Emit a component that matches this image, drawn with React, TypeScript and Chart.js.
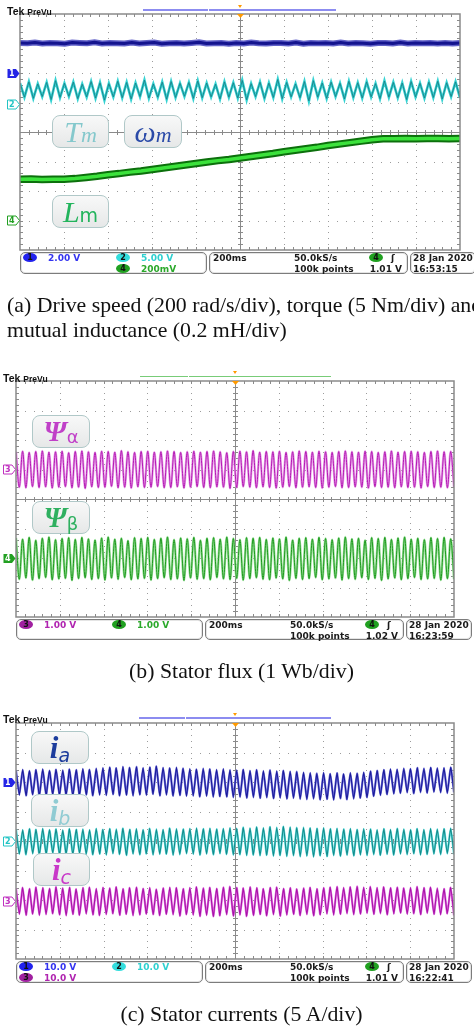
import React, { useEffect, useRef } from 'react';
import { Chart, registerables } from 'chart.js';

Chart.register(...registerables);

// ---------------- DATA (values in screen divisions, centre = 0, range -4..4) ----------------
// Panel (a): ch1 speed (blue), ch2 torque (cyan), ch4 mutual inductance (green)
const speedLevels = [3.02, 3.01, 3.03, 3.0, 3.02, 3.01, 2.99, 3.03, 3.02, 3.01, 3.04, 3.0, 3.02, 3.01, 3.0, 3.03, 3.0, 3.02, 3.03, 2.99,
  3.01, 3.02, 3.0, 3.02, 3.04, 3.0, 3.01, 3.02, 2.99, 3.02, 3.0, 3.03, 3.01, 3.0, 3.02, 3.02, 3.0, 3.03, 2.99, 3.02,
  3.01, 3.02, 3.0, 3.03, 3.0, 3.02, 3.01, 2.99, 3.02, 3.02, 3.0, 3.03, 3.0, 3.02, 3.01, 3.02, 3.0, 3.02, 3.0, 3.02];
const torquePeaks = [1.66, 1.7, 1.63, 1.68, 1.74, 1.65, 1.69, 1.62, 1.71, 1.67, 1.64, 1.72, 1.68, 1.66, 1.76, 1.63, 1.69, 1.71, 1.65, 1.68,
  1.73, 1.66, 1.62, 1.7, 1.67, 1.75, 1.64, 1.69, 1.66, 1.78, 1.68, 1.63, 1.71, 1.74, 1.66, 1.69, 1.65, 1.72, 1.67, 1.7,
  1.64, 1.73, 1.68, 1.66, 1.71, 1.65, 1.69, 1.72, 1.67, 1.7];
const torqueTroughs = [1.18, 1.14, 1.2, 1.1, 1.17, 1.21, 1.13, 1.19, 1.15, 1.08, 1.19, 1.16, 1.12, 1.2, 1.15, 1.18, 1.11, 1.17, 1.21, 1.14,
  1.16, 1.19, 1.12, 1.18, 1.15, 1.09, 1.2, 1.14, 1.17, 1.13, 1.19, 1.16, 1.05, 1.18, 1.14, 1.2, 1.12, 1.17, 1.15, 1.19,
  1.13, 1.18, 1.16, 1.1, 1.19, 1.15, 1.17, 1.12, 1.2, 1.16];
const inductanceLevels = [-1.6, -1.59, -1.61, -1.6, -1.6, -1.58, -1.54, -1.5, -1.45, -1.41, -1.36, -1.32, -1.27, -1.22, -1.17, -1.12,
  -1.07, -1.02, -0.97, -0.93, -0.88, -0.83, -0.78, -0.73, -0.67, -0.62, -0.57, -0.52, -0.46, -0.41, -0.36, -0.31, -0.26,
  -0.23, -0.23, -0.22, -0.23, -0.22, -0.22, -0.23, -0.22];

// Panel (b): ch3 Psi-alpha (magenta), ch4 Psi-beta (green)
const psiAlphaPeaks = [1.6, 1.62, 1.58, 1.61, 1.63, 1.59, 1.6, 1.62, 1.57, 1.61, 1.63, 1.6, 1.58, 1.62, 1.61, 1.59, 1.64, 1.6, 1.58, 1.61,
  1.62, 1.59, 1.6, 1.63, 1.61, 1.58, 1.6, 1.62, 1.59, 1.61, 1.63, 1.6, 1.57, 1.61, 1.62, 1.6, 1.64, 1.59, 1.61, 1.6,
  1.62, 1.58, 1.6, 1.63, 1.61, 1.59, 1.62, 1.6, 1.58, 1.61, 1.63, 1.6, 1.59, 1.62, 1.61, 1.58, 1.6, 1.63, 1.59, 1.61,
  1.62, 1.6, 1.58, 1.61, 1.63, 1.6, 1.61];
const psiAlphaTroughs = [0.4, 0.38, 0.42, 0.39, 0.41, 0.37, 0.4, 0.42, 0.38, 0.4, 0.36, 0.41, 0.39, 0.4, 0.43, 0.38, 0.4, 0.37, 0.41, 0.39,
  0.4, 0.42, 0.38, 0.39, 0.41, 0.37, 0.4, 0.42, 0.39, 0.38, 0.41, 0.4, 0.36, 0.39, 0.42, 0.4, 0.38, 0.41, 0.39, 0.37,
  0.4, 0.42, 0.38, 0.4, 0.41, 0.39, 0.37, 0.4, 0.42, 0.38, 0.39, 0.41, 0.4, 0.37, 0.42, 0.39, 0.4, 0.38, 0.41, 0.39,
  0.4, 0.37, 0.42, 0.39, 0.4, 0.38, 0.41];
const psiBetaPeaks = [-1.32, -1.36, -1.3, -1.4, -1.33, -1.29, -1.38, -1.34, -1.31, -1.37, -1.3, -1.35, -1.39, -1.32, -1.29, -1.36, -1.33, -1.41, -1.31, -1.34,
  -1.3, -1.37, -1.33, -1.29, -1.38, -1.32, -1.35, -1.3, -1.4, -1.33, -1.31, -1.36, -1.29, -1.34, -1.38, -1.31, -1.33, -1.3, -1.37, -1.32,
  -1.35, -1.29, -1.39, -1.33, -1.31, -1.36, -1.3, -1.34, -1.38, -1.32, -1.29, -1.35, -1.33, -1.4, -1.31, -1.34, -1.3, -1.37, -1.32, -1.29,
  -1.36, -1.33, -1.38, -1.31, -1.34, -1.3, -1.35];
const psiBetaTroughs = [-2.72, -2.68, -2.75, -2.7, -2.66, -2.74, -2.71, -2.69, -2.76, -2.7, -2.67, -2.73, -2.7, -2.75, -2.68, -2.72, -2.66, -2.74, -2.71, -2.69,
  -2.75, -2.7, -2.67, -2.73, -2.71, -2.76, -2.68, -2.72, -2.7, -2.74, -2.66, -2.71, -2.73, -2.69, -2.75, -2.7, -2.67, -2.72, -2.74, -2.68,
  -2.71, -2.76, -2.69, -2.73, -2.7, -2.66, -2.74, -2.71, -2.68, -2.75, -2.7, -2.72, -2.67, -2.73, -2.69, -2.76, -2.71, -2.68, -2.74, -2.7,
  -2.66, -2.73, -2.71, -2.69, -2.75, -2.7, -2.72];

// Panel (c): ch1 ia (blue), ch2 ib (cyan), ch3 ic (magenta)
const iaPeaks = [2.4, 2.42, 2.38, 2.41, 2.44, 2.39, 2.42, 2.4, 2.43, 2.41, 2.45, 2.42, 2.46,
  2.48, 2.5, 2.47, 2.52, 2.49, 2.51, 2.48, 2.5, 2.53, 2.49, 2.47, 2.5, 2.46,
  2.45, 2.43, 2.46, 2.44, 2.42, 2.45, 2.41,
  2.4, 2.42, 2.39, 2.41, 2.38, 2.4, 2.37, 2.39, 2.36, 2.35,
  2.33, 2.31, 2.29, 2.32, 2.28, 2.3, 2.27, 2.31, 2.29, 2.33,
  2.36, 2.39, 2.41, 2.44, 2.43, 2.46, 2.45, 2.48, 2.46, 2.49, 2.47, 2.48, 2.5];
const iaTroughs = [1.56, 1.54, 1.57, 1.53, 1.55, 1.58, 1.54, 1.56, 1.52, 1.55, 1.57, 1.54, 1.56,
  1.55, 1.58, 1.54, 1.56, 1.53, 1.57, 1.55, 1.59, 1.54, 1.56, 1.53, 1.55, 1.52,
  1.53, 1.5, 1.52, 1.49, 1.51, 1.5, 1.48,
  1.49, 1.46, 1.48, 1.45, 1.47, 1.44, 1.46, 1.43, 1.45, 1.42,
  1.41, 1.43, 1.4, 1.42, 1.39, 1.44, 1.41, 1.43, 1.46, 1.48,
  1.52, 1.55, 1.58, 1.6, 1.62, 1.64, 1.61, 1.65, 1.63, 1.66, 1.64, 1.62, 1.65];
const ibPeaks = [0.4, 0.38, 0.41, 0.39, 0.42, 0.38, 0.4, 0.37, 0.41, 0.39, 0.4, 0.38, 0.42,
  0.39, 0.41, 0.4, 0.43, 0.39, 0.41, 0.38, 0.42, 0.4, 0.39, 0.43, 0.41, 0.4,
  0.42, 0.44, 0.41, 0.43, 0.4, 0.42, 0.45,
  0.43, 0.46, 0.44, 0.47, 0.45, 0.48, 0.46, 0.49, 0.47, 0.45,
  0.46, 0.44, 0.42, 0.45, 0.41, 0.43, 0.4, 0.42, 0.39, 0.41,
  0.4, 0.38, 0.41, 0.39, 0.42, 0.4, 0.38, 0.41, 0.39, 0.42, 0.4, 0.41, 0.43];
const ibTroughs = [-0.44, -0.46, -0.43, -0.47, -0.45, -0.42, -0.46, -0.44, -0.47, -0.43, -0.45, -0.46, -0.44,
  -0.47, -0.43, -0.45, -0.48, -0.44, -0.46, -0.43, -0.47, -0.45, -0.44, -0.48, -0.46, -0.43,
  -0.45, -0.47, -0.44, -0.46, -0.43, -0.45, -0.47,
  -0.46, -0.49, -0.47, -0.5, -0.48, -0.51, -0.49, -0.52, -0.5, -0.53,
  -0.51, -0.54, -0.5, -0.52, -0.49, -0.51, -0.48, -0.5, -0.47, -0.49,
  -0.46, -0.48, -0.45, -0.47, -0.44, -0.46, -0.43, -0.47, -0.45, -0.44, -0.46, -0.43, -0.45];
const icPeaks = [-1.6, -1.58, -1.62, -1.57, -1.59, -1.61, -1.56, -1.6, -1.58, -1.63, -1.59, -1.57, -1.61,
  -1.58, -1.6, -1.56, -1.62, -1.59, -1.57, -1.61, -1.58, -1.64, -1.6, -1.57, -1.59, -1.62,
  -1.58, -1.56, -1.6, -1.58, -1.61, -1.57, -1.55,
  -1.58, -1.6, -1.56, -1.59, -1.62, -1.58, -1.57, -1.61, -1.59, -1.63,
  -1.6, -1.58, -1.62, -1.59, -1.57, -1.55, -1.58, -1.56, -1.54, -1.57,
  -1.55, -1.58, -1.56, -1.59, -1.57, -1.6, -1.58, -1.55, -1.59, -1.57, -1.6, -1.62, -1.58];
const icTroughs = [-2.48, -2.51, -2.47, -2.52, -2.49, -2.46, -2.5, -2.53, -2.48, -2.51, -2.47, -2.5, -2.52,
  -2.49, -2.46, -2.51, -2.48, -2.53, -2.5, -2.47, -2.49, -2.52, -2.48, -2.5, -2.54, -2.49,
  -2.51, -2.55, -2.52, -2.56, -2.53, -2.5, -2.54,
  -2.51, -2.55, -2.52, -2.49, -2.53, -2.5, -2.54, -2.51, -2.48, -2.52,
  -2.49, -2.53, -2.5, -2.47, -2.51, -2.48, -2.46, -2.5, -2.47, -2.45,
  -2.48, -2.46, -2.5, -2.47, -2.44, -2.48, -2.46, -2.49, -2.45, -2.48, -2.5, -2.46, -2.52];

// channel reference markers (divisions)
const markersA = [
  { level: 2.0, label: '1', color: '#2424e6', filled: true },
  { level: 0.95, label: '2', color: '#22c4c4', filled: false },
  { level: -2.98, label: '4', color: '#22a022', filled: false },
];
const markersB = [
  { level: 1.02, label: '3', color: '#c030c0', filled: false },
  { level: -2.0, label: '4', color: '#22a022', filled: true },
];
const markersC = [
  { level: 2.0, label: '1', color: '#2424e6', filled: true },
  { level: 0.0, label: '2', color: '#22c4c4', filled: false },
  { level: -2.03, label: '3', color: '#c030c0', filled: false },
];

// ---------------- helpers ----------------
function zigzag(peaks: number[], troughs: number[]) {
  const n = Math.min(peaks.length, troughs.length);
  const step = 10 / (n - 0.5);
  const pts: { x: number; y: number }[] = [];
  for (let i = 0; i < n; i++) {
    pts.push({ x: i * step, y: peaks[i] });
    pts.push({ x: (i + 0.5) * step, y: troughs[i] });
  }
  return pts;
}
function series(values: number[]) {
  const step = 10 / (values.length - 1);
  return values.map((v, i) => ({ x: i * step, y: v }));
}
function trace(data: any[], color: string, width: number, order: number, extra: any = {}) {
  return { data, borderColor: color, borderWidth: width, pointRadius: 0, fill: false, order, tension: 0, ...extra };
}

const scopeGrid = {
  id: 'scopeGrid',
  beforeDatasetsDraw(chart: any) {
    const { ctx, chartArea: a } = chart;
    const xs = chart.scales.x, ys = chart.scales.y;
    ctx.save();
    ctx.fillStyle = '#ffffff';
    ctx.fillRect(a.left, a.top, a.right - a.left, a.bottom - a.top);
    ctx.fillStyle = '#9c9c9c';
    for (let d = 1; d < 10; d++) {
      if (d === 5) continue;
      const px = Math.round(xs.getPixelForValue(d));
      for (let k = 1; k < 40; k++) {
        const py = Math.round(ys.getPixelForValue(-4 + k * 0.2));
        ctx.fillRect(px, py, 1, 1);
      }
    }
    for (let d = -3; d <= 3; d++) {
      if (d === 0) continue;
      const py = Math.round(ys.getPixelForValue(d));
      for (let k = 1; k < 50; k++) {
        const px = Math.round(xs.getPixelForValue(k * 0.2));
        ctx.fillRect(px, py, 1, 1);
      }
    }
    ctx.fillStyle = '#8a8a8a';
    const cx = Math.round(xs.getPixelForValue(5));
    const cy = Math.round(ys.getPixelForValue(0));
    ctx.fillRect(cx, a.top, 1, a.bottom - a.top);
    ctx.fillRect(a.left, cy, a.right - a.left, 1);
    for (let k = 1; k < 40; k++) {
      const py = Math.round(ys.getPixelForValue(-4 + k * 0.2));
      ctx.fillRect(cx - 2, py, 5, 1);
      ctx.fillRect(a.left, py, 3, 1);
      ctx.fillRect(a.right - 3, py, 3, 1);
    }
    for (let k = 1; k < 50; k++) {
      const px = Math.round(xs.getPixelForValue(k * 0.2));
      ctx.fillRect(px, cy - 2, 1, 5);
      ctx.fillRect(px, a.top, 1, 3);
      ctx.fillRect(px, a.bottom - 3, 1, 3);
    }
    ctx.restore();
  },
  afterDatasetsDraw(chart: any) {
    const { ctx, chartArea: a } = chart;
    const cx = Math.round(chart.scales.x.getPixelForValue(5));
    ctx.save();
    ctx.strokeStyle = '#8a8a8a';
    ctx.lineWidth = 1.5;
    ctx.strokeRect(a.left, a.top, a.right - a.left, a.bottom - a.top);
    ctx.fillStyle = '#ff9a00';
    ctx.beginPath();
    ctx.moveTo(cx - 3, a.top);
    ctx.lineTo(cx + 4, a.top);
    ctx.lineTo(cx + 0.5, a.top + 4);
    ctx.closePath();
    ctx.fill();
    ctx.restore();
  },
};

function markerPlugin(markers: any[]) {
  return {
    id: 'scopeMarkers',
    afterDraw(chart: any) {
      const { ctx, chartArea: a } = chart;
      const ys = chart.scales.y;
      ctx.save();
      ctx.font = 'bold 8px "DejaVu Sans"';
      ctx.textAlign = 'center';
      ctx.textBaseline = 'middle';
      for (const m of markers) {
        const py = Math.round(ys.getPixelForValue(m.level)) + 0.5;
        const x0 = a.left - 12.5;
        const x1 = a.left - 4;
        ctx.beginPath();
        ctx.moveTo(x0, py - 4.5);
        ctx.lineTo(x1, py - 4.5);
        ctx.lineTo(a.left - 0.5, py);
        ctx.lineTo(x1, py + 4.5);
        ctx.lineTo(x0, py + 4.5);
        ctx.closePath();
        if (m.filled) {
          ctx.fillStyle = m.color;
          ctx.fill();
          ctx.fillStyle = '#ffffff';
        } else {
          ctx.fillStyle = '#ffffff';
          ctx.fill();
          ctx.strokeStyle = m.color;
          ctx.lineWidth = 1;
          ctx.stroke();
          ctx.fillStyle = m.color;
        }
        ctx.fillText(m.label, (x0 + x1) / 2, py + 0.5);
      }
      ctx.restore();
    },
  };
}

function ScopeChart({ top, height, pad, datasets, markers }: any) {
  const ref = useRef<HTMLCanvasElement>(null);
  useEffect(() => {
    const chart = new Chart(ref.current as HTMLCanvasElement, {
      type: 'line',
      data: { datasets },
      options: {
        animation: false,
        responsive: false,
        maintainAspectRatio: false,
        devicePixelRatio: 1,
        events: [],
        layout: { padding: pad },
        scales: {
          x: { type: 'linear', min: 0, max: 10, display: false },
          y: { type: 'linear', min: -4, max: 4, display: false },
        },
        plugins: { legend: { display: false }, tooltip: { enabled: false } },
        elements: { point: { radius: 0 } },
      } as any,
      plugins: [scopeGrid, markerPlugin(markers)],
    } as any);
    return () => chart.destroy();
  }, []);
  return <canvas ref={ref} width={474} height={height} style={{ position: 'absolute', left: 0, top, width: 474, height }} />;
}

// ---------------- HTML decorations ----------------
const MONO = '"DejaVu Sans", sans-serif';

function Txt({ x, y, text, color = '#1a1a1a', right = false }: any) {
  const style: any = {
    position: 'absolute', top: y - 6, height: 12, lineHeight: '12px', fontSize: 9, fontWeight: 'bold',
    color, whiteSpace: 'nowrap', fontFamily: MONO,
  };
  if (right) style.right = 474 - x; else style.left = x;
  return <div style={style}>{text}</div>;
}
function Ell({ x, y, n, bg }: any) {
  return (
    <div style={{
      position: 'absolute', left: x, top: y - 4.5, width: 14, height: 9, borderRadius: '50%', background: bg,
      fontSize: 8, fontWeight: 'bold', lineHeight: '9px', textAlign: 'center', color: '#111', fontFamily: MONO,
    }}>{n}</div>
  );
}
function Sect({ left, top, width, height }: any) {
  return <div style={{
    position: 'absolute', left, top, width, height, boxSizing: 'border-box', border: '1px solid #7c7c7c',
    borderRadius: 5, boxShadow: 'inset 0 0 0 1px #e4e4e4',
  }} />;
}

function StatusBar({ dx, top, h, chans, trig, date, clock }: any) {
  const r1 = top + 5.5, r2 = top + 16.5;
  return (
    <>
      <Sect left={20 + dx} top={top} width={187} height={h} />
      <Sect left={209 + dx} top={top} width={199} height={h} />
      <Sect left={410 + dx} top={top} width={66} height={h} />
      {chans.map((c: any, i: number) => (
        <React.Fragment key={i}>
          <Ell x={(c.col ? 116 : 23) + dx} y={c.row ? r2 : r1} n={c.n} bg={c.bg} />
          <Txt x={(c.col ? 141 : 48) + dx} y={c.row ? r2 : r1} text={c.text} color={c.color} />
        </React.Fragment>
      ))}
      <Txt x={213 + dx} y={r1} text="200ms" />
      <Txt x={294 + dx} y={r1} text="50.0kS/s" />
      <Txt x={294 + dx} y={r2} text="100k points" />
      <Ell x={369 + dx} y={r1} n="4" bg="#20a020" />
      <Txt x={391 + dx} y={r1} text="ʃ" />
      <Txt x={402 + dx} y={r2} text={trig} right />
      <Txt x={413 + dx} y={r1} text={date} />
      <Txt x={413 + dx} y={r2} text={clock} />
    </>
  );
}

function TekHeader({ left, top, from, to, gap, color, trigX }: any) {
  const ly = top + 5;
  return (
    <>
      <div style={{ position: 'absolute', left, top, height: 12, lineHeight: '12px', whiteSpace: 'nowrap', fontFamily: '"Liberation Sans", sans-serif', color: '#111' }}>
        <span style={{ fontSize: 10.5, fontWeight: 'bold' }}>Tek</span>
        <span style={{ fontSize: 8.5, fontWeight: 'bold', marginLeft: 3 }}>PreVu</span>
      </div>
      <div style={{ position: 'absolute', left: from, top: ly, width: gap - from - 0.5, height: 1.5, background: color }} />
      <div style={{ position: 'absolute', left: gap + 1, top: ly, width: to - gap - 1, height: 1.5, background: color }} />
      <div style={{ position: 'absolute', left: trigX - 2.5, top: ly - 4.5, width: 0, height: 0, borderLeft: '2.5px solid transparent', borderRight: '2.5px solid transparent', borderTop: '3.5px solid #ff9a00' }} />
    </>
  );
}

function Label({ left, top, width, children }: any) {
  return (
    <div style={{
      position: 'absolute', left, top, width, height: 33, boxSizing: 'border-box', border: '1.5px solid #b0c8c8',
      borderRadius: 8, background: 'linear-gradient(#f8f8f8, #e6e8e8)', display: 'flex', alignItems: 'center',
      justifyContent: 'center', whiteSpace: 'nowrap', lineHeight: 1,
    }}><span style={{ display: 'inline-block', lineHeight: 1 }}>{children}</span></div>
  );
}
const serifI = (txt: string, color: string, size: number, bold = false) => (
  <span style={{ fontFamily: '"Liberation Serif", serif', fontStyle: 'italic', fontWeight: bold ? 'bold' : 'normal', fontSize: size, color }}>{txt}</span>
);
const sansSub = (txt: string, color: string, size: number, italic: boolean, drop = 0) => (
  <span style={{ fontFamily: '"DejaVu Sans", sans-serif', fontStyle: italic ? 'italic' : 'normal', fontSize: size, color, position: 'relative', top: drop }}>{txt}</span>
);

const captionStyle: any = {
  position: 'absolute', fontFamily: '"Liberation Serif", serif', fontSize: 21.8, lineHeight: '24.5px', color: '#111', whiteSpace: 'nowrap',
};

export default function App() {
  const dsA = [
    trace(series(speedLevels), '#14148e', 3, 1),
    trace(series(speedLevels), '#6262c8', 6, 2),
    trace(zigzag(torquePeaks, torqueTroughs), '#1b8088', 0.9, 1),
    trace(zigzag(torquePeaks, torqueTroughs), '#33d2d2', 2.6, 2),
    trace(series(inductanceLevels), '#3ce23c', 3.5, 1),
    trace(series(inductanceLevels), '#0c700c', 7.5, 2),
  ];
  const dsB = [
    trace(zigzag(psiAlphaPeaks, psiAlphaTroughs), '#b418b4', 1, 1, { cubicInterpolationMode: 'monotone' }),
    trace(zigzag(psiAlphaPeaks, psiAlphaTroughs), '#eaa6ea', 2.4, 2, { cubicInterpolationMode: 'monotone' }),
    trace(zigzag(psiBetaPeaks, psiBetaTroughs), '#1e9a1e', 1, 1, { cubicInterpolationMode: 'monotone' }),
    trace(zigzag(psiBetaPeaks, psiBetaTroughs), '#9be09b', 2.4, 2, { cubicInterpolationMode: 'monotone' }),
  ];
  const dsC = [
    trace(zigzag(iaPeaks, iaTroughs), '#1a1a9a', 1.1, 1, { tension: 0.15 }),
    trace(zigzag(iaPeaks, iaTroughs), '#7070d8', 2.2, 2, { tension: 0.15 }),
    trace(zigzag(ibPeaks, ibTroughs), '#148a8a', 1.1, 1, { tension: 0.15 }),
    trace(zigzag(ibPeaks, ibTroughs), '#5fdede', 2.2, 2, { tension: 0.15 }),
    trace(zigzag(icPeaks, icTroughs), '#a812a8', 1.1, 1, { tension: 0.15 }),
    trace(zigzag(icPeaks, icTroughs), '#e070e0', 2.2, 2, { tension: 0.15 }),
  ];

  return (
    <div style={{ position: 'absolute', left: 0, top: 0, width: 474, height: 1030, background: '#fff', overflow: 'hidden' }}>
      {/* ---------- Panel (a) ---------- */}
      <ScopeChart top={0} height={252} pad={{ left: 20, top: 14, right: 14, bottom: 2 }} datasets={dsA} markers={markersA} />
      <TekHeader left={7} top={4} from={143} to={336} gap={208} color="#8c8cf0" trigX={240} />
      <Label left={52} top={115} width={57}>{serifI('T', '#84c8cc', 30)}{serifI('m', '#84c8cc', 22)}</Label>
      <Label left={124} top={115} width={58}>{serifI('ω', '#2a4aa8', 30)}{serifI('m', '#2a4aa8', 22)}</Label>
      <Label left={52} top={195} width={57}>{serifI('L', '#22b45c', 30)}{sansSub('m', '#22b45c', 19, false)}</Label>
      <StatusBar dx={0} top={252} h={22} trig="1.01 V" date="28 Jan  2020" clock="16:53:15"
        chans={[
          { col: 0, row: 0, n: '1', bg: '#2222ee', text: '2.00 V', color: '#3434f0' },
          { col: 1, row: 0, n: '2', bg: '#33dddd', text: '5.00 V', color: '#2ed0d0' },
          { col: 1, row: 1, n: '4', bg: '#20a020', text: '200mV', color: '#2aa82a' },
        ]} />
      <div style={{ ...captionStyle, left: 7, top: 293 }}>
        <div>(a) Drive speed (200 rad/s/div), torque (5 Nm/div) and</div>
        <div>mutual inductance (0.2 mH/div)</div>
      </div>

      {/* ---------- Panel (b) ---------- */}
      <ScopeChart top={370} height={250} pad={{ left: 16, top: 11, right: 20, bottom: 3 }} datasets={dsB} markers={markersB} />
      <TekHeader left={3} top={370.5} from={140} to={331} gap={188} color="#78cc78" trigX={235} />
      <Label left={32} top={415} width={58}>{serifI('Ψ', '#c040c8', 29, true)}{sansSub('α', '#c040c8', 18, false, 2)}</Label>
      <Label left={32} top={501} width={58}>{serifI('Ψ', '#2fb060', 29, true)}{sansSub('β', '#2fb060', 18, false, 3)}</Label>
      <StatusBar dx={-4} top={619} h={21} trig="1.02 V" date="28 Jan  2020" clock="16:23:59"
        chans={[
          { col: 0, row: 0, n: '3', bg: '#a020a0', text: '1.00 V', color: '#b024b0' },
          { col: 1, row: 0, n: '4', bg: '#20a020', text: '1.00 V', color: '#2aa82a' },
        ]} />
      <div style={{ ...captionStyle, left: 0, width: 483, textAlign: 'center', top: 659 }}>(b) Stator flux (1 Wb/div)</div>

      {/* ---------- Panel (c) ---------- */}
      <ScopeChart top={712} height={250} pad={{ left: 16, top: 11, right: 20, bottom: 3 }} datasets={dsC} markers={markersC} />
      <TekHeader left={3} top={712} from={139} to={331} gap={185} color="#8c8cf0" trigX={235} />
      <Label left={31} top={731} width={58}>{serifI('i', '#1c3c9c', 31, true)}{sansSub('a', '#1c3c9c', 19, true, 4)}</Label>
      <Label left={31} top={794} width={58}>{serifI('i', '#90cbd3', 31, true)}{sansSub('b', '#90cbd3', 19, true, 4)}</Label>
      <Label left={33} top={853} width={57}>{serifI('i', '#c838c8', 31, true)}{sansSub('c', '#c838c8', 19, true, 4)}</Label>
      <StatusBar dx={-4} top={961} h={22} trig="1.01 V" date="28 Jan  2020" clock="16:22:41"
        chans={[
          { col: 0, row: 0, n: '1', bg: '#2222ee', text: '10.0 V', color: '#3434f0' },
          { col: 1, row: 0, n: '2', bg: '#33dddd', text: '10.0 V', color: '#2ed0d0' },
          { col: 0, row: 1, n: '3', bg: '#a020a0', text: '10.0 V', color: '#b024b0' },
        ]} />
      <div style={{ ...captionStyle, left: 0, width: 483, textAlign: 'center', top: 1002 }}>(c) Stator currents (5 A/div)</div>
    </div>
  );
}
